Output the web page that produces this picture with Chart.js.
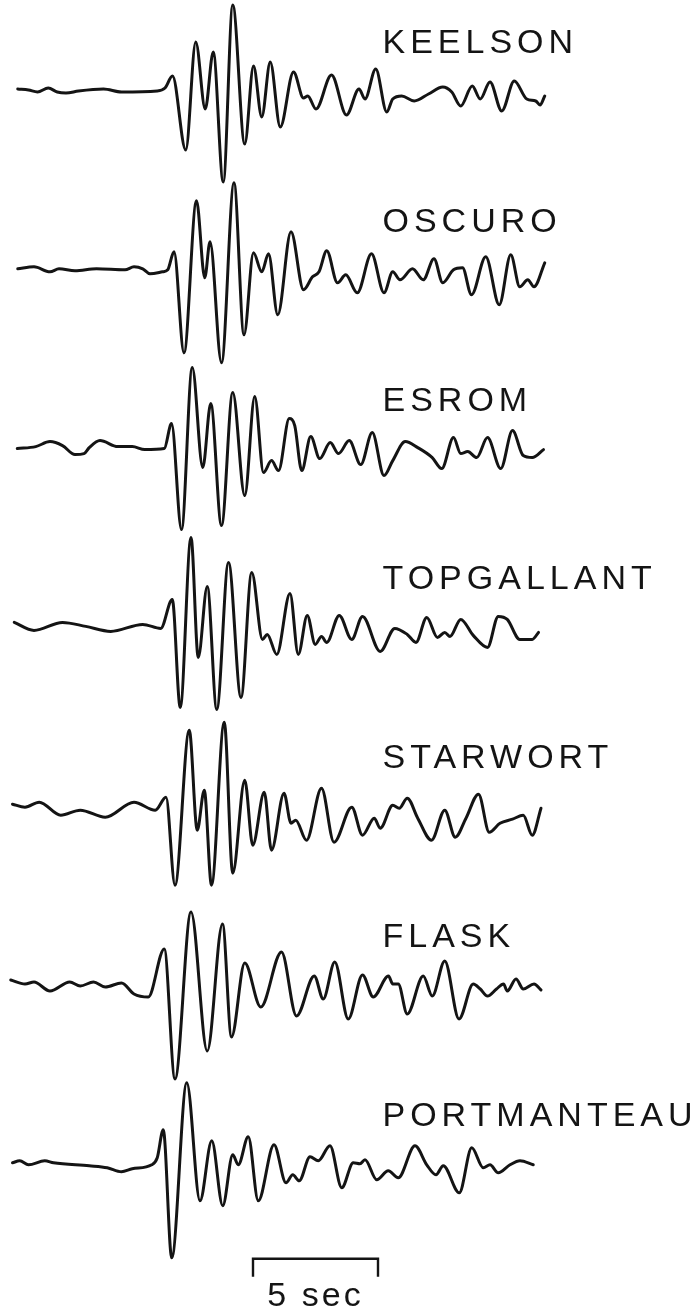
<!DOCTYPE html>
<html>
<head>
<meta charset="utf-8">
<title>Seismograms</title>
<script src="https://cdn.jsdelivr.net/npm/chart.js@4.4.1/dist/chart.umd.min.js"></script>
<style>
  html, body { margin: 0; padding: 0; background: #ffffff; }
  #wrap { position: relative; width: 693px; height: 1313px; }
</style>
</head>
<body>
<div id="wrap"><canvas id="chart"></canvas></div>
<script>
// Station names, top to bottom
const stations = ['KEELSON', 'OSCURO', 'ESROM', 'TOPGALLANT', 'STARWORT', 'FLASK', 'PORTMANTEAU'];

// Each record: [time (s), relative amplitude]
const KEELSON = [
  [0.71,1],[1.14,0],[1.50,-2],[1.93,2],[2.29,-2],[2.64,-3],[3.14,-1],[4.14,1],[4.86,-2],[6.29,-1],[6.60,2],
  [6.90,14],[7.43,-60],[7.83,48],[8.21,-19],[8.53,38],[8.93,-92],[9.31,85],[9.79,-54],[10.14,24],[10.47,-27],
  [10.81,28],[11.21,-37],[11.74,18],[12.14,-8],[12.31,-6],[12.64,-19],[13.26,15],[13.86,-25],[14.36,1],[14.60,-9],
  [15.03,21],[15.47,-22],[15.71,-9],[16.07,-6],[16.57,-11],[17.14,-4],[17.71,3],[18.07,-2],[18.43,-16],[18.89,4],
  [19.21,-9],[19.60,8],[20.07,-21],[20.57,9],[21.07,-9],[21.43,-11],[21.60,-15],[21.79,-6]
];
const OSCURO = [
  [0.71,0],[1.36,2],[2.00,-3],[2.36,0],[3.00,-2],[3.86,0],[5.00,-1],[5.36,2],[5.71,0],[6.00,-5],[6.50,-3],[6.71,-1],
  [6.96,17],[7.36,-84],[7.86,68],[8.19,-9],[8.40,27],[8.86,-94],[9.36,86],[9.76,-66],[10.14,16],[10.47,-3],
  [10.74,15],[11.11,-46],[11.64,37],[12.14,-21],[12.50,-8],[12.76,-3],[13.07,18],[13.50,-14],[13.83,-6],[14.29,-24],
  [14.86,15],[15.36,-24],[15.71,-3],[16.00,-11],[16.50,0],[16.93,-11],[17.36,10],[17.71,-14],[18.14,-1],[18.50,1],
  [18.86,-26],[19.43,12],[19.97,-36],[20.43,14],[20.79,-18],[21.11,-11],[21.36,-18],[21.79,6]
];
const ESROM = [
  [0.69,-1],[1.43,1],[2.00,6],[2.50,2],[3.00,-7],[3.36,-6],[3.57,0],[4.00,7],[4.71,1],[5.29,1],[5.79,-2],[6.57,-1],
  [6.86,24],[7.26,-82],[7.69,80],[8.11,-20],[8.43,44],[8.86,-78],[9.31,55],[9.79,-48],[10.19,51],[10.54,-25],
  [10.86,-13],[11.14,-23],[11.57,29],[11.79,22],[12.07,-23],[12.43,11],[12.79,-11],[13.21,5],[13.54,-6],[13.97,7],
  [14.43,-17],[14.89,15],[15.36,-28],[15.71,-13],[16.21,6],[16.71,0],[17.29,-10],[17.67,-21],[18.14,10],[18.43,-6],
  [18.71,-4],[19.07,-10],[19.50,10],[20.03,-21],[20.50,17],[20.93,-8],[21.29,-10],[21.74,-2]
];
const TOPGALLANT = [
  [0.57,4],[1.36,-4],[2.50,4],[3.43,0],[4.43,-5],[5.71,2],[6.43,-2],
  [6.89,27],[7.21,-81],[7.64,89],[7.93,-31],[8.29,40],[8.67,-83],[9.14,64],[9.64,-71],[10.07,54],[10.50,-13],
  [10.69,-8],[11.07,-28],[11.60,33],[11.93,-28],[12.29,11],[12.61,-18],[12.86,-10],[13.07,-16],[13.57,11],[14.07,-13],
  [14.50,10],[15.21,-25],[15.79,-2],[16.29,-8],[16.64,-16],[17.07,9],[17.50,-11],[17.79,-6],[18.00,-10],[18.43,7],
  [18.93,-9],[19.50,-21],[19.93,10],[20.29,7],[20.79,-13],[21.29,-13],[21.54,-6]
];
const STARWORT = [
  [0.50,1],[1.00,-2],[1.57,3],[2.43,-10],[3.21,-5],[4.21,-12],[5.36,3],[6.21,-5],
  [6.64,8],[7.00,-80],[7.57,75],[7.89,-25],[8.17,15],[8.46,-80],[8.97,83],[9.31,-68],[9.79,25],[10.11,-40],
  [10.57,13],[10.86,-45],[11.36,12],[11.64,-18],[11.83,-15],[12.26,-35],[12.86,17],[13.36,-37],[14.07,-2],[14.50,-30],
  [14.97,-13],[15.21,-23],[15.71,0],[15.97,-3],[16.29,7],[16.71,-13],[17.26,-35],[17.79,-5],[18.21,-32],[18.64,-13],
  [19.14,11],[19.57,-27],[20.00,-18],[20.50,-14],[20.93,-10],[21.29,-30],[21.64,-3]
];
const FLASK = [
  [0.43,4],[1.00,0],[1.36,2],[2.00,-7],[2.79,2],[3.21,-2],[3.74,2],[4.21,-3],[4.86,1],[5.36,-10],[5.93,-13],
  [6.57,35],[7.00,-95],[7.64,72],[8.29,-67],[8.90,60],[9.26,-53],[9.79,21],[10.43,-23],[11.26,32],[11.86,-32],
  [12.57,8],[12.93,-15],[13.39,22],[13.93,-35],[14.50,9],[14.93,-13],[15.54,8],[15.71,0],[15.93,0],[16.29,-30],
  [16.93,8],[17.29,-12],[17.79,23],[18.36,-35],[18.93,0],[19.21,-5],[19.50,-12],[19.86,-5],[20.14,0],[20.29,-7],
  [20.64,5],[20.93,-5],[21.36,0],[21.64,-6]
];
const PORTMANTEAU = [
  [0.50,0],[0.79,2],[1.14,-2],[1.79,2],[2.14,0],[3.57,-3],[4.29,-5],[4.86,-9],[5.29,-6],[6.07,-2],[6.29,5],
  [6.53,33],[6.87,-95],[7.47,80],[8.00,-38],[8.47,22],[8.91,-43],[9.31,8],[9.53,-2],[9.93,26],[10.33,-38],
  [10.96,18],[11.44,-20],[11.71,-12],[11.97,-18],[12.40,6],[12.73,2],[13.20,17],[13.67,-25],[14.13,0],[14.40,-1],
  [14.60,3],[15.07,-17],[15.53,-8],[15.93,-15],[16.60,17],[17.07,-2],[17.44,-12],[17.73,-3],[18.37,-30],[18.87,15],
  [19.33,-5],[19.60,-2],[19.93,-10],[20.40,-2],[20.80,2],[21.33,-2]
];

const traces = [KEELSON, OSCURO, ESROM, TOPGALLANT, STARWORT, FLASK, PORTMANTEAU];

// Time-scale bar
const scaleBarStart = 10.12;   // s
const scaleBarSeconds = 5;     // s
const scaleBarText = '5 sec';

// Layout of the stacked record section
const TRACE_SPACING = 178.8;   // amplitude units between baselines
const LABEL_LIFT = 37;         // label baseline above trace baseline
const LABEL_TIME = 15.3;       // label left edge (s)
const INK = '#141414';

const datasets = traces.map((rec, i) => ({
  label: stations[i],
  data: rec.map(([t, a]) => ({ x: t, y: a - i * TRACE_SPACING })),
  borderColor: INK,
  borderWidth: 3,
  pointRadius: 0,
  fill: false,
  cubicInterpolationMode: 'monotone',
  borderCapStyle: 'round',
  borderJoinStyle: 'round'
}));

const annotate = {
  id: 'annotate',
  afterDatasetsDraw(chart) {
    const { ctx, scales: { x, y } } = chart;
    ctx.save();
    ctx.fillStyle = INK;
    ctx.font = '34px "Liberation Sans", Arial, sans-serif';
    ctx.textBaseline = 'alphabetic';
    ctx.textAlign = 'left';
    ctx.letterSpacing = '5px';
    chart.data.datasets.forEach((ds, i) => {
      ctx.fillText(ds.label, x.getPixelForValue(LABEL_TIME), y.getPixelForValue(-i * TRACE_SPACING + LABEL_LIFT));
    });

    // scale bar below the last trace
    const barY = y.getPixelForValue(-(stations.length - 1) * TRACE_SPACING - 96);
    const x0 = x.getPixelForValue(scaleBarStart);
    const x1 = x.getPixelForValue(scaleBarStart + scaleBarSeconds);
    ctx.strokeStyle = INK;
    ctx.lineWidth = 2.4;
    ctx.lineCap = 'butt';
    ctx.beginPath();
    ctx.moveTo(x0, barY + 18);
    ctx.lineTo(x0, barY);
    ctx.lineTo(x1, barY);
    ctx.lineTo(x1, barY + 18);
    ctx.stroke();
    ctx.letterSpacing = '3px';
    ctx.textAlign = 'center';
    ctx.fillText(scaleBarText, (x0 + x1) / 2, barY + 47);
    ctx.restore();
  }
};

new Chart(document.getElementById('chart'), {
  type: 'line',
  data: { datasets },
  options: {
    responsive: true,
    maintainAspectRatio: false,
    animation: false,
    devicePixelRatio: 1,
    layout: { padding: 0 },
    plugins: { legend: { display: false }, tooltip: { enabled: false } },
    scales: {
      x: { type: 'linear', min: 0, max: 27.72, display: false },
      y: { type: 'linear', min: -1223, max: 90, display: false }
    }
  },
  plugins: [annotate]
});
</script>
</body>
</html>
